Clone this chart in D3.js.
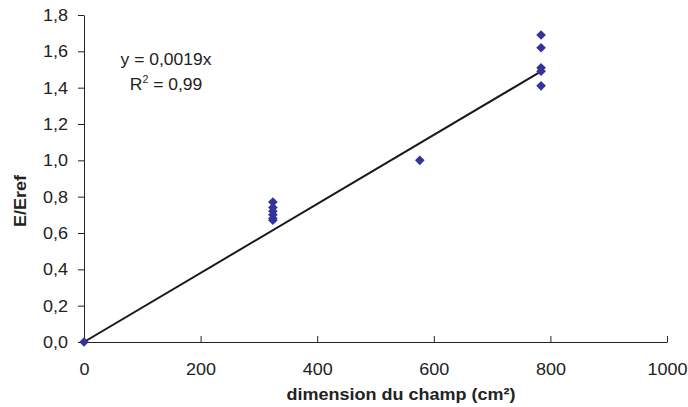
<!DOCTYPE html>
<html>
<head>
<meta charset="utf-8">
<script src="https://cdn.jsdelivr.net/npm/d3@7"></script>
<style>
  body { margin: 0; background: #fff; }
  text { font-family: "Liberation Sans", Arial, sans-serif; fill: #222; }
</style>
</head>
<body>
<svg></svg>
<script>
// field size (cm²) and relative output E/Eref
var fieldSizes = [0, 324, 324, 324, 324, 324, 324, 576, 784, 784, 784, 784, 784]
var ratios = [0, 0.77, 0.74, 0.72, 0.70, 0.68, 0.67, 1.00, 1.69, 1.62, 1.51, 1.49, 1.41]
var xTicks = [0, 200, 400, 600, 800, 1000]
var yTicks = [0, 0.2, 0.4, 0.6, 0.8, 1.0, 1.2, 1.4, 1.6, 1.8]
var slope = 0.0019
var fitRange = [0, 784]

var points = fieldSizes.map(function(d, i) {
  return { x: d, y: ratios[i] }
})

var width = 688
var height = 407
var stretch = 'scale(1.06,1)'
var svg = d3.select('svg').attr('width', width).attr('height', height)

var x = d3.scaleLinear().domain([0, 1000]).range([84, 667])
var y = d3.scaleLinear().domain([0, 1.8]).range([342, 15])
var fmt = function(d) { return d3.format('.1f')(d).replace('.', ',') }

// y axis, ticks outside
var yAxis = svg.append('g')
  .attr('transform', 'translate(' + x(0) + ',0)')
  .call(d3.axisLeft(y).tickValues(yTicks).tickFormat(fmt).tickSize(6).tickPadding(9).tickSizeOuter(0))
yAxis.select('.domain').attr('stroke', '#222')
yAxis.selectAll('line').attr('stroke', '#222')
yAxis.selectAll('text').attr('font-size', 17).attr('transform', stretch).style('fill', '#222')

// x axis, ticks pointing up into the plot
var xAxis = svg.append('g')
  .attr('transform', 'translate(0,' + y(0) + ')')
  .call(d3.axisBottom(x).tickValues(xTicks).tickFormat(d3.format('d')).tickSize(-6).tickPadding(21).tickSizeOuter(0))
xAxis.select('.domain').attr('stroke', '#222')
xAxis.selectAll('line').attr('stroke', '#222')
xAxis.selectAll('text').attr('font-size', 17).attr('transform', stretch).style('fill', '#222')

// trend line
svg.append('line')
  .attr('x1', x(fitRange[0]))
  .attr('y1', y(slope * fitRange[0]))
  .attr('x2', x(fitRange[1]))
  .attr('y2', y(slope * fitRange[1]))
  .attr('stroke', '#1a1a1a')
  .attr('stroke-width', 2)

// diamond markers
svg.append('g')
  .selectAll('path')
  .data(points)
  .enter().append('path')
  .attr('transform', function(d) {
    return 'translate(' + x(d.x) + ',' + y(d.y) + ') rotate(45)'
  })
  .attr('d', 'M-3.4,-3.4L3.4,-3.4L3.4,3.4L-3.4,3.4Z')
  .attr('fill', '#333399')

// equation
svg.append('text')
  .attr('transform', 'translate(166,65) ' + stretch)
  .attr('text-anchor', 'middle')
  .attr('font-size', 16.5)
  .text('y = 0,0019x')
var r2 = svg.append('text')
  .attr('transform', 'translate(166,90) ' + stretch)
  .attr('text-anchor', 'middle')
  .attr('font-size', 16.5)
r2.append('tspan').text('R')
r2.append('tspan').attr('dy', -7).attr('font-size', 10).text('2')
r2.append('tspan').attr('dy', 7).text(' = 0,99')

// axis titles
svg.append('text')
  .attr('transform', 'translate(26,201) rotate(-90) ' + stretch)
  .attr('text-anchor', 'middle')
  .attr('font-size', 17)
  .attr('font-weight', 'bold')
  .text('E/Eref')
svg.append('text')
  .attr('transform', 'translate(401,400) ' + stretch)
  .attr('text-anchor', 'middle')
  .attr('font-size', 17)
  .attr('font-weight', 'bold')
  .text('dimension du champ (cm²)')
</script>
</body>
</html>
